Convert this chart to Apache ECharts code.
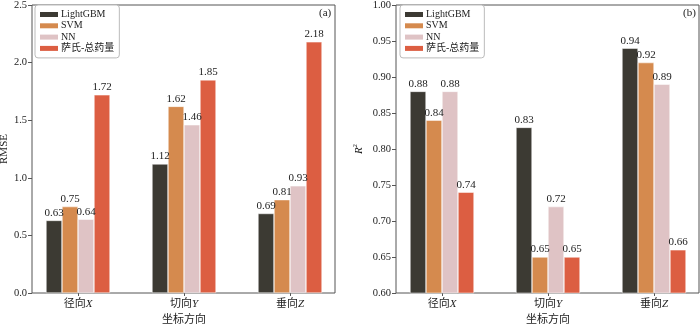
<!DOCTYPE html>
<html>
<head>
<meta charset="utf-8">
<script src="https://cdn.jsdelivr.net/npm/echarts@6/dist/echarts.min.js"></script>
<style>
  html, body { margin: 0; padding: 0; background: #fff; }
  #main { width: 700px; height: 324px; }
</style>
</head>
<body>
<div id="main"></div>
<script>
var chartDom = document.getElementById('main');
var myChart = echarts.init(chartDom);
var option;

const FONT = "'Liberation Serif', 'Noto Sans CJK SC', serif";
const AXIS_COLOR = '#555';

const categories = ['径向X', '切向Y', '垂向Z'];
const modelNames = ['LightGBM', 'SVM', 'NN', '萨氏-总药量'];
const modelColors = ['#3c3a33', '#d58a4e', '#dfc3c5', '#dc5e42'];

// RMSE, panel (a)
const rmseLightGBM = [0.63, 1.12, 0.69];
const rmseSVM = [0.75, 1.62, 0.81];
const rmseNN = [0.64, 1.46, 0.93];
const rmseSadov = [1.72, 1.85, 2.18];

// R^2, panel (b)
const r2LightGBM = [0.88, 0.83, 0.94];
const r2SVM = [0.84, 0.65, 0.92];
const r2NN = [0.88, 0.72, 0.89];
const r2Sadov = [0.74, 0.65, 0.66];

const rmseTicks = { min: 0, max: 2.5, interval: 0.5, digits: 1 };
const r2Ticks = { min: 0.6, max: 1.0, interval: 0.05, digits: 2 };

function categoryLabel(v) {
  return v.slice(0, -1) + '{i|' + v.slice(-1) + '}';
}

function frameGrid(left, width) {
  return {
    left: left, width: width, top: 5, bottom: 31,
    outerBoundsMode: 'none', containLabel: false,
    show: true, borderColor: AXIS_COLOR, borderWidth: 1,
    backgroundColor: 'transparent'
  };
}

function barGrid(left) {
  return { left: left, width: 318, top: 5, bottom: 31, outerBoundsMode: 'none', containLabel: false };
}

function frameYAxis(gridIndex, ticks, name, nameGap, nameRich) {
  return {
    gridIndex: gridIndex,
    type: 'value',
    min: ticks.min, max: ticks.max, interval: ticks.interval,
    name: name,
    nameLocation: 'middle',
    nameGap: nameGap,
    nameTextStyle: { fontFamily: FONT, fontSize: 11, color: '#222', rich: nameRich },
    axisLine: { show: false },
    axisTick: { show: true, inside: false, length: 4, lineStyle: { color: AXIS_COLOR } },
    axisLabel: {
      fontFamily: FONT, fontSize: 10.5, color: '#222', margin: 5,
      formatter: v => v.toFixed(ticks.digits)
    },
    splitLine: { show: false }
  };
}

function hiddenYAxis(gridIndex, ticks) {
  return { gridIndex: gridIndex, type: 'value', min: ticks.min, max: ticks.max, show: false };
}

function categoryXAxis(gridIndex) {
  return {
    gridIndex: gridIndex,
    type: 'category',
    data: categories,
    name: '坐标方向',
    nameLocation: 'middle',
    nameGap: 20,
    nameTextStyle: { fontFamily: FONT, fontSize: 11, color: '#222' },
    axisLine: { show: false },
    axisTick: { show: true, alignWithLabel: true, length: 3, lineStyle: { color: AXIS_COLOR } },
    axisLabel: {
      fontFamily: FONT, fontSize: 11, color: '#222', margin: 6,
      formatter: categoryLabel,
      rich: { i: { fontFamily: FONT, fontSize: 11, fontStyle: 'italic', color: '#222' } }
    },
    splitLine: { show: false }
  };
}

function makeLegend(left) {
  return {
    left: left, top: 5,
    orient: 'vertical',
    data: modelNames,
    icon: 'rect',
    itemWidth: 18, itemHeight: 5, itemGap: 0.3,
    padding: [4, 5, 4, 5],
    backgroundColor: '#fff',
    borderColor: '#bbb', borderWidth: 1, borderRadius: 3,
    itemStyle: { borderWidth: 0 },
    textStyle: { fontFamily: FONT, fontSize: 10, lineHeight: 11, color: '#222', padding: [0, 0, 0, -2] }
  };
}

function makeSeries(values, axisIndex, digits) {
  return values.map((data, i) => ({
    name: modelNames[i],
    type: 'bar',
    xAxisIndex: axisIndex,
    yAxisIndex: axisIndex,
    data: data,
    barWidth: 16,
    barGap: '0%',
    itemStyle: { color: modelColors[i], borderColor: '#fff', borderWidth: 0.5 },
    label: {
      show: true, position: 'top', distance: 2,
      fontFamily: FONT, fontSize: 11, color: '#222',
      formatter: p => p.value.toFixed(digits)
    },
    emphasis: { disabled: true }
  }));
}

option = {
  backgroundColor: '#fff',
  animation: false,
  title: [
    { text: '(a)', left: 314, top: 3, textStyle: { fontFamily: FONT, fontSize: 11, fontWeight: 'normal', color: '#222' } },
    { text: '(b)', left: 678, top: 3, textStyle: { fontFamily: FONT, fontSize: 11, fontWeight: 'normal', color: '#222' } }
  ],
  legend: [makeLegend(35), makeLegend(400)],
  grid: [frameGrid(32, 303), barGrid(25), frameGrid(396, 303), barGrid(389)],
  xAxis: [
    { gridIndex: 0, type: 'value', show: false },
    categoryXAxis(1),
    { gridIndex: 2, type: 'value', show: false },
    categoryXAxis(3)
  ],
  yAxis: [
    frameYAxis(0, rmseTicks, 'RMSE', 18, {}),
    hiddenYAxis(1, rmseTicks),
    frameYAxis(2, r2Ticks, '{r|R}{s|2}', 30, {
      r: { fontFamily: FONT, fontSize: 11, fontStyle: 'italic', color: '#222', lineHeight: 14 },
      s: { fontFamily: FONT, fontSize: 7, color: '#222', verticalAlign: 'top', lineHeight: 14 }
    }),
    hiddenYAxis(3, r2Ticks)
  ],
  series: [].concat(
    makeSeries([rmseLightGBM, rmseSVM, rmseNN, rmseSadov], 1, 2),
    makeSeries([r2LightGBM, r2SVM, r2NN, r2Sadov], 3, 2)
  )
};

option && myChart.setOption(option);
</script>
</body>
</html>
